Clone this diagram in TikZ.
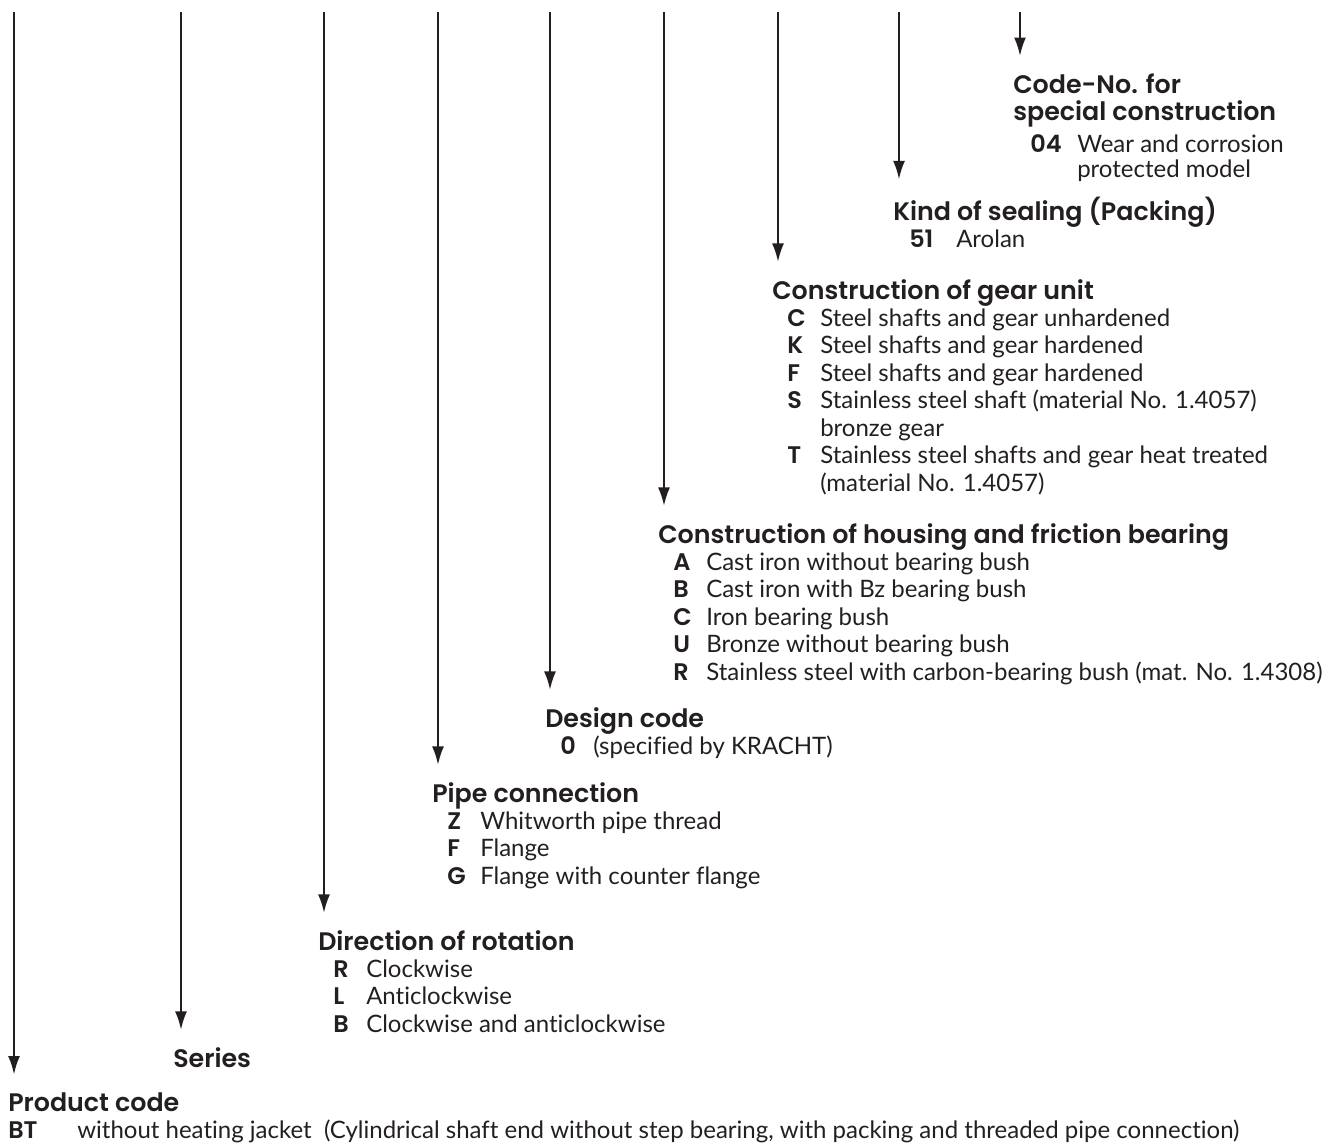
\documentclass[tikz,border=0pt]{standalone}
\usepackage{fontspec}
\setmainfont{Lato}[Ligatures = NoCommon]
\newfontfamily\headfont{Poppins SemiBold}
\usepackage{xcolor}
\usepackage{tikz}
\usetikzlibrary{arrows.meta, positioning}

\definecolor{ink}{RGB}{35,31,32}
\newcommand{\opt}[2]{\hspace*{11.25pt}\makebox[24.75pt][l]{\headfont #1}#2}
\newcommand{\more}[1]{\hspace*{36pt}#1}
\newcommand{\head}[1]{{\fontsize{19}{20.6}\selectfont\headfont #1}}

\tikzset{
  code/.style = {anchor = base west, inner sep = 0pt, text = ink, font = \fontsize{18}{20.6}\selectfont},
  lead/.style = {draw = ink, line width = 1.8pt, -{Latex[length = 14pt, width = 9pt]}, shorten >= 12.6pt}
}

\begin{document}
\begin{tikzpicture}[x = 0.75pt, y = -0.75pt]
\useasboundingbox (0,0) rectangle (1340,1146);

\node[code, font = \fontsize{18}{18.75}\selectfont] (special) at (1013,93) {\begin{tabular}[t]{@{}l@{}}
\head{Code-No. for}\\
\head{special construction}\\[5.25pt]
\hspace*{12.75pt}\makebox[35.25pt][l]{\headfont 04}Wear and corrosion\\
\hspace*{48pt}protected model
\end{tabular}};

\node[code] (sealing) at (893,220) {\begin{tabular}[t]{@{}l@{}}
\head{Kind of sealing (Packing)}\\
\hspace*{12pt}\makebox[35.25pt][l]{\headfont 51}Arolan
\end{tabular}};

\node[code] (gear) at (772,299) {\begin{tabular}[t]{@{}l@{}}
\head{Construction of gear unit}\\
\opt{C}{Steel shafts and gear unhardened}\\
\opt{K}{Steel shafts and gear hardened}\\
\opt{F}{Steel shafts and gear hardened}\\
\opt{S}{Stainless steel shaft (material No. 1.4057)}\\
\more{bronze gear}\\
\opt{T}{Stainless steel shafts and gear heat treated}\\
\more{(material No. 1.4057)}
\end{tabular}};

\node[code] (housing) at (658,543) {\begin{tabular}[t]{@{}l@{}}
\head{Construction of housing and friction bearing}\\
\opt{A}{Cast iron without bearing bush}\\
\opt{B}{Cast iron with Bz bearing bush}\\
\opt{C}{Iron bearing bush}\\
\opt{U}{Bronze without bearing bush}\\
\opt{R}{Stainless steel with carbon-bearing bush (mat. No. 1.4308)}
\end{tabular}};

\node[code] (design) at (545,727) {\begin{tabular}[t]{@{}l@{}}
\head{Design code}\\
\opt{0}{(specified by KRACHT)}
\end{tabular}};

\node[code] (pipe) at (432,802) {\begin{tabular}[t]{@{}l@{}}
\head{Pipe connection}\\
\opt{Z}{Whitworth pipe thread}\\
\opt{F}{Flange}\\
\opt{G}{Flange with counter flange}
\end{tabular}};

\node[code] (rotation) at (318,950) {\begin{tabular}[t]{@{}l@{}}
\head{Direction of rotation}\\
\opt{R}{Clockwise}\\
\opt{L}{Anticlockwise}\\
\opt{B}{Clockwise and anticlockwise}
\end{tabular}};

\node[code] (series) at (173,1067) {\begin{tabular}[t]{@{}l@{}}
\head{Series}
\end{tabular}};

\node[code] (product) at (8,1111) {\begin{tabular}[t]{@{}l@{}}
\head{Product code}\\
\makebox[51.75pt][l]{\headfont BT}without heating jacket\ \ (Cylindrical shaft end without step bearing, with packing and threaded pipe connection)
\end{tabular}};

% leads from the top edge down to each field
\foreach \x/\n in {14/product, 181/series, 324/rotation, 438/pipe, 550/design, 664/housing, 778/gear, 899/sealing, 1020/special}
{
\coordinate (s\n) at (\x,12);
\draw[lead] (s\n) -- (s\n |- \n.north);
}
\end{tikzpicture}
\end{document}
